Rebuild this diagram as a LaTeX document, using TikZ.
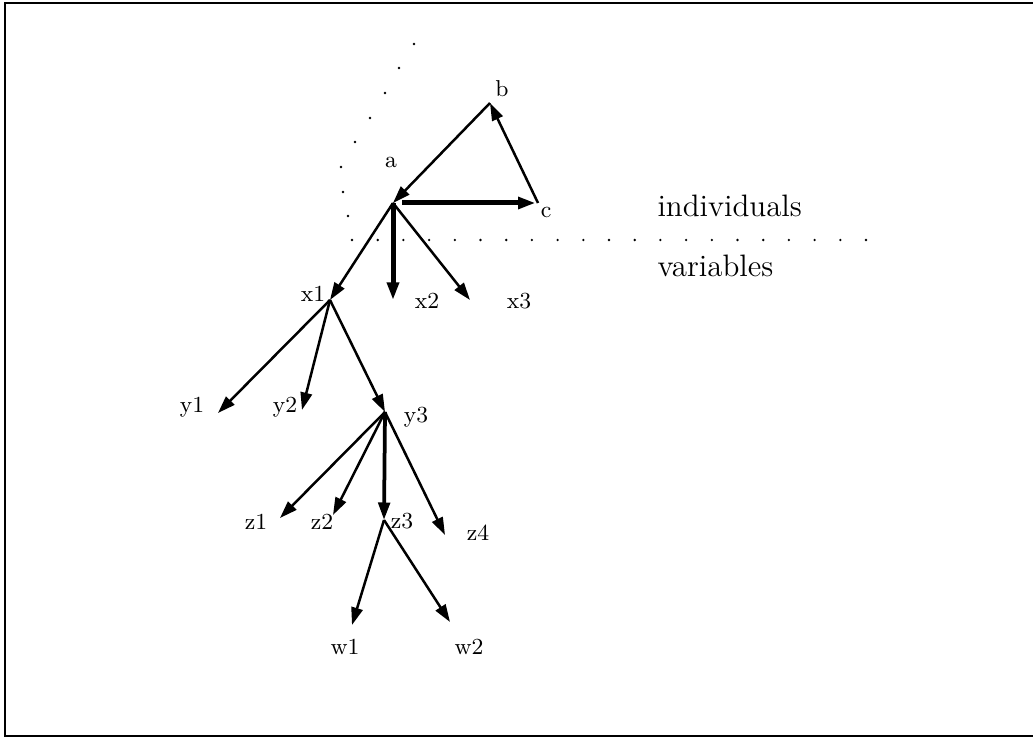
\documentclass[tikz,border=0pt]{standalone}
\usetikzlibrary{arrows.meta}
\begin{document}
\begin{tikzpicture}[x=0.4pt,y=-0.4pt,
  edge/.style={line width=1pt,-{Triangle[length=7pt,width=4.6pt]}},
  thickedge/.style={line width=2pt,-{Triangle[length=7pt,width=4.6pt]}},
  lbl/.style={inner sep=0pt,anchor=base,font=\fontsize{9.2}{11}\selectfont},
  biglbl/.style={inner sep=0pt,anchor=base west,font=\fontsize{12.4}{14}\selectfont},
  dotmark/.style={fill=black,draw=none}]
\useasboundingbox (0,0) rectangle (1033,738);
% frame (left, top, bottom)
\draw[line width=0.8pt] (1033,3) -- (5,3) -- (5,736) -- (1033,736);
% points
\coordinate (a) at (393,203);
\coordinate (b) at (490,103);
\coordinate (c) at (538,203);
\coordinate (x1) at (330,300);
\coordinate (x2) at (393,300);
\coordinate (x3) at (470,300);
\coordinate (y1) at (218,413);
\coordinate (y2) at (302,410);
\coordinate (y3) at (385,412);
\coordinate (z1) at (280,518);
\coordinate (z2) at (333,515);
\coordinate (z3) at (384,520);
\coordinate (z4) at (445,535);
\coordinate (w1) at (352,625);
\coordinate (w2) at (450,622);
% labels
\node[lbl] (la) at (391,168) {a};
\node[lbl] (lb) at (502,97) {b};
\node[lbl] (lc) at (546,218) {c};
\node[lbl] (lx1) at (313,302) {x1};
\node[lbl] (lx2) at (427,309) {x2};
\node[lbl] (lx3) at (519,309) {x3};
\node[lbl] (ly1) at (192,413) {y1};
\node[lbl] (ly2) at (285,413) {y2};
\node[lbl] (ly3) at (416,423) {y3};
\node[lbl] (lz1) at (256,530) {z1};
\node[lbl] (lz2) at (322,530) {z2};
\node[lbl] (lz3) at (402,529) {z3};
\node[lbl] (lz4) at (478,541) {z4};
\node[lbl] (lw1) at (345,654) {w1};
\node[lbl] (lw2) at (469,654) {w2};
\node[biglbl] (ind) at (657,217) {individuals};
\node[biglbl] (var) at (657,277) {variables};
% dotted separators
\foreach \p in {(414,44),(399,68),(385,93),(370,118),(355,142),(341,167),(343,192),(348,216)}
  \fill[dotmark] \p circle (1.3);
\foreach \i in {0,...,20}
  \fill[dotmark] (352+25.7*\i,240) circle (1.3);
% connectors
\draw[edge] (b) -- (a);
\draw[edge] (c) -- (b);
\draw[thickedge,shorten <=3.6pt,shorten >=1pt] (a) -- (c);
\draw[edge] (a) -- (x1);
\draw[thickedge] (a) -- (x2);
\draw[edge] (a) -- (x3);
\draw[edge] (x1) -- (y1);
\draw[edge] (x1) -- (y2);
\draw[edge] (x1) -- (y3);
\draw[edge] (y3) -- (z1);
\draw[edge] (y3) -- (z2);
\draw[thickedge,line width=1.5pt] (y3) -- (z3);
\draw[edge] (y3) -- (z4);
\draw[edge] (z3) -- (w1);
\draw[edge] (z3) -- (w2);
\end{tikzpicture}
\end{document}
